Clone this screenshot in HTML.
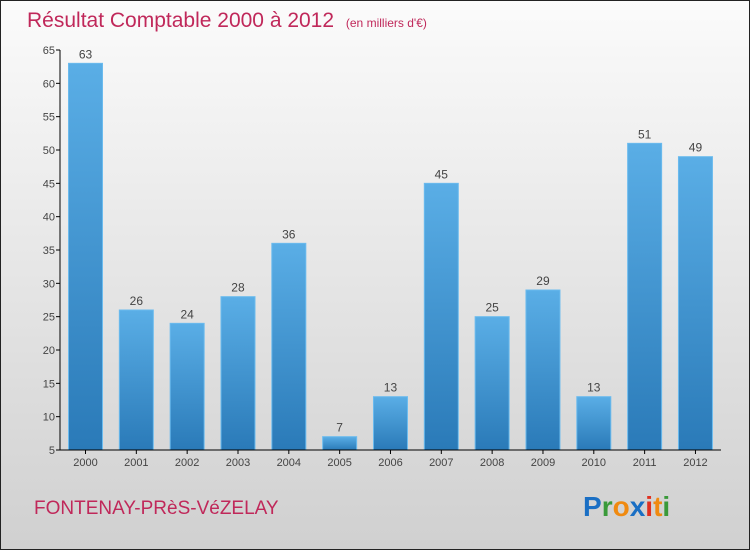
<!DOCTYPE html>
<html><head><meta charset="utf-8"><style>
body{margin:0;width:750px;height:550px;overflow:hidden}
svg{display:block;font-family:"Liberation Sans",sans-serif}
</style></head><body>
<svg width="750" height="550">
<defs>
<linearGradient id="bg" x1="0" y1="0" x2="0" y2="1"><stop offset="0" stop-color="#fbfbfb"/><stop offset="1" stop-color="#d0d0d0"/></linearGradient>
<linearGradient id="bar" x1="0" y1="0" x2="0" y2="1"><stop offset="0" stop-color="#5aaee6"/><stop offset="1" stop-color="#2a7ab8"/></linearGradient>
</defs>
<rect x="0.5" y="0.5" width="749" height="549" fill="url(#bg)" stroke="#222"/>
<text x="27" y="27" font-size="21" fill="#c0285a">Résultat Comptable 2000 à 2012 <tspan font-size="12" dx="6">(en milliers d'€)</tspan></text>
<g id="plot"></g>
<text x="34" y="514" font-size="19" fill="#c0285a">FONTENAY-PRèS-VéZELAY</text>
<text x="583" y="516" font-size="28" font-weight="bold"><tspan fill="#1a6fc4">P</tspan><tspan fill="#3a9a3a">r</tspan><tspan fill="#f08a10">o</tspan><tspan fill="#1a6fc4">x</tspan><tspan fill="#e03020">i</tspan><tspan fill="#f08a10">t</tspan><tspan fill="#3a9a3a">i</tspan></text>
</svg>
<script>
const years=["2000","2001","2002","2003","2004","2005","2006","2007","2008","2009","2010","2011","2012"];
const values=[63,26,24,28,36,7,13,45,25,29,13,51,49];
const yTicks=[5,10,15,20,25,30,35,40,45,50,55,60,65];
const NS="http://www.w3.org/2000/svg";
const g=document.getElementById('plot');
const y=v=>450-(v-5)*400/60;
const x=i=>85.5+i*50.83;
function mk(t,a,txt){const e=document.createElementNS(NS,t);for(const k in a)e.setAttribute(k,a[k]);if(txt!==undefined)e.textContent=txt;g.appendChild(e);return e;}
yTicks.forEach(t=>{
 const l=mk('line',{x1:56,x2:60,y1:y(t),y2:y(t),stroke:'#000'});
 
 
 const tx=mk('text',{x:55,y:y(t)+4,'text-anchor':'end','font-size':11,fill:'#444'},t);
 
 
});
years.forEach((yr,i)=>{
 const v=values[i];
 const r=mk('rect',{x:x(i)-17,y:y(v),width:34,height:450-y(v),fill:'url(#bar)',stroke:'#6bbbee','stroke-width':1});
 
 
 const vl=mk('text',{x:x(i),y:y(v)-5,'text-anchor':'middle','font-size':12,fill:'#444'},v);
 
 
 const tk=mk('line',{x1:x(i),x2:x(i),y1:450,y2:454,stroke:'#000'});
 
 
 const xl=mk('text',{x:x(i),y:466,'text-anchor':'middle','font-size':11,fill:'#444'},yr);
 
 
});
const ya=mk('line',{x1:60,x2:60,y1:50,y2:450,stroke:'#000'});


const xa=mk('line',{x1:60,x2:721,y1:450,y2:450,stroke:'#000'});


</script>
</body></html>
